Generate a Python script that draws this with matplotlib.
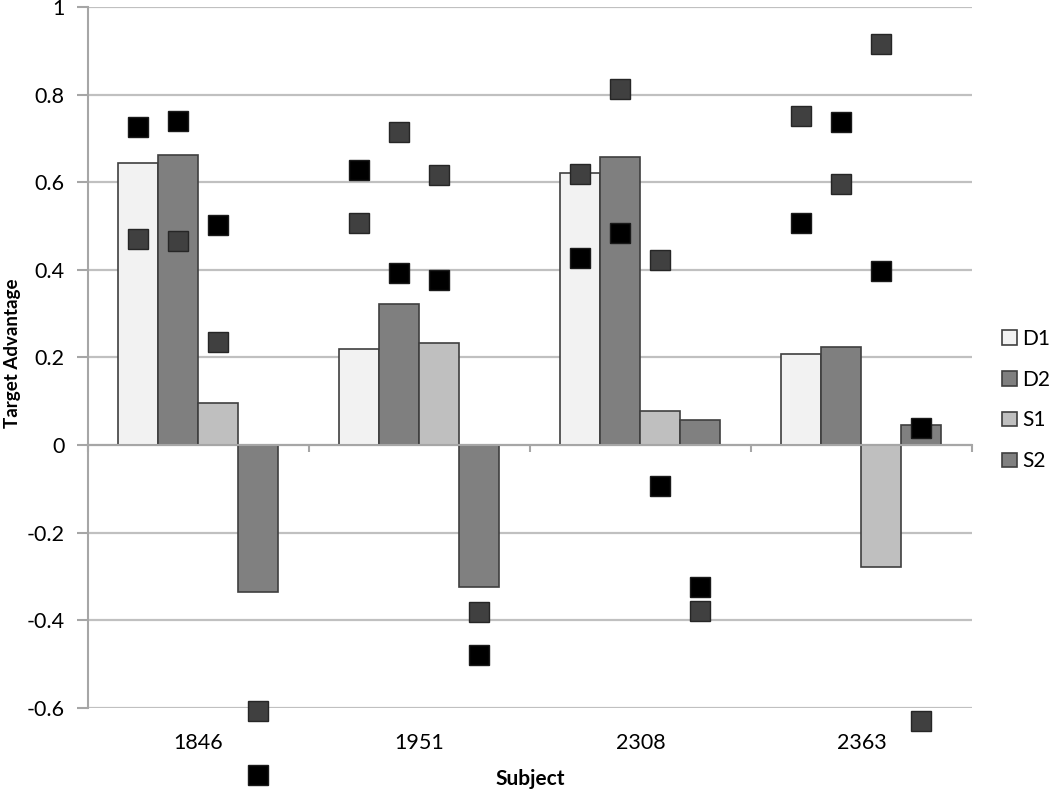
import numpy as np
import matplotlib
matplotlib.use("Agg")
import matplotlib.pyplot as plt
from matplotlib.patches import Patch
import matplotlib.transforms as mtransforms

plt.rcParams['font.family'] = ['Lato', 'DejaVu Sans']

subjects = ['1846', '1951', '2308', '2363']
series = ['D1', 'D2', 'S1', 'S2']
bar_colors = ['#f2f2f2', '#7f7f7f', '#bfbfbf', '#808080']

# bar heights per series, one value per subject
D1 = [0.645, 0.220, 0.622, 0.207]
D2 = [0.663, 0.322, 0.657, 0.224]
S1 = [0.095, 0.232, 0.078, -0.279]
S2 = [-0.336, -0.323, 0.057, 0.047]
bars = [D1, D2, S1, S2]

# individual points (black squares / dark grey squares), per series, per subject
black_pts = {
    'D1': [0.727, 0.627, 0.428, 0.508],
    'D2': [0.740, 0.393, 0.485, 0.737],
    'S1': [0.502, 0.376, -0.094, 0.397],
    'S2': [-0.753, -0.479, -0.325, 0.040],
}
grey_pts = {
    'D1': [0.471, 0.508, 0.618, 0.751],
    'D2': [0.466, 0.715, 0.813, 0.597],
    'S1': [0.236, 0.616, 0.423, 0.916],
    'S2': [-0.608, -0.380, -0.378, -0.629],
}

fig = plt.figure(figsize=(10.5, 7.89), dpi=100)
ax = fig.add_axes([0.0838, 0.1027, 0.9257 - 0.0838, 0.9911 - 0.1027])

x = np.arange(len(subjects))
w = 0.181
offsets = [-1.5, -0.5, 0.5, 1.5]

for i, name in enumerate(series):
    ax.bar(x + offsets[i] * w, bars[i], width=w, color=bar_colors[i],
           edgecolor='#3f3f3f', linewidth=1.2, zorder=3)
    ax.plot(x + offsets[i] * w, grey_pts[name], 's', ms=14, mfc='#404040',
            mec='#262626', mew=1, ls='none', zorder=5, clip_on=False)
    ax.plot(x + offsets[i] * w, black_pts[name], 's', ms=14, mfc='#000000',
            mec='#1a1a1a', mew=1, ls='none', zorder=6, clip_on=False)

ax.set_xlim(-0.5, 3.5)
ax.set_ylim(-0.6, 1.0)
ax.set_yticks(np.arange(-0.6, 1.01, 0.2))
ax.set_yticklabels(['-0.6', '-0.4', '-0.2', '0', '0.2', '0.4', '0.6', '0.8', '1'])
ax.grid(axis='y', color='#c0c0c0', lw=1.6, zorder=0)
ax.set_axisbelow(True)

for s in ['top', 'right']:
    ax.spines[s].set_visible(False)
ax.spines['left'].set_color('#a6a6a6')
ax.spines['left'].set_linewidth(1.5)
ax.spines['bottom'].set_position(('data', 0))
ax.spines['bottom'].set_color('#a6a6a6')
ax.spines['bottom'].set_linewidth(1.5)
ax.spines['bottom'].set_zorder(4)

ax.tick_params(axis='y', length=8, width=1.5, color='#a6a6a6', labelsize=15.5,
               pad=9)
ax.set_xticks([-0.5, 0.5, 1.5, 2.5, 3.5])
ax.tick_params(axis='x', length=5, width=1.5, color='#a6a6a6', direction='out',
               labelbottom=False)

trans = mtransforms.blended_transform_factory(ax.transData, ax.transAxes)
for xi, lab in zip(x, subjects):
    ax.text(xi, -0.05, lab, transform=trans, ha='center', va='center',
            fontsize=15.5)

fig.text(530 / 1050, 1 - 779 / 789, 'Subject', ha='center', va='center',
         fontsize=15, fontweight='bold')
fig.text(13 / 1050, 1 - 353 / 789, 'Target Advantage', ha='center', va='center',
         rotation=90, fontsize=13.5, fontweight='bold')

handles = [Patch(facecolor=c, edgecolor='#3f3f3f', lw=1.2) for c in bar_colors]
fig.legend(handles, series, loc='center left', bbox_to_anchor=(1002 / 1050, 1 - 400 / 789),
           frameon=False, fontsize=15, handlelength=0.7, handleheight=0.7,
           handletextpad=0.25, labelspacing=1.0, borderaxespad=0, borderpad=0)

fig.savefig('out.png', dpi=100)
